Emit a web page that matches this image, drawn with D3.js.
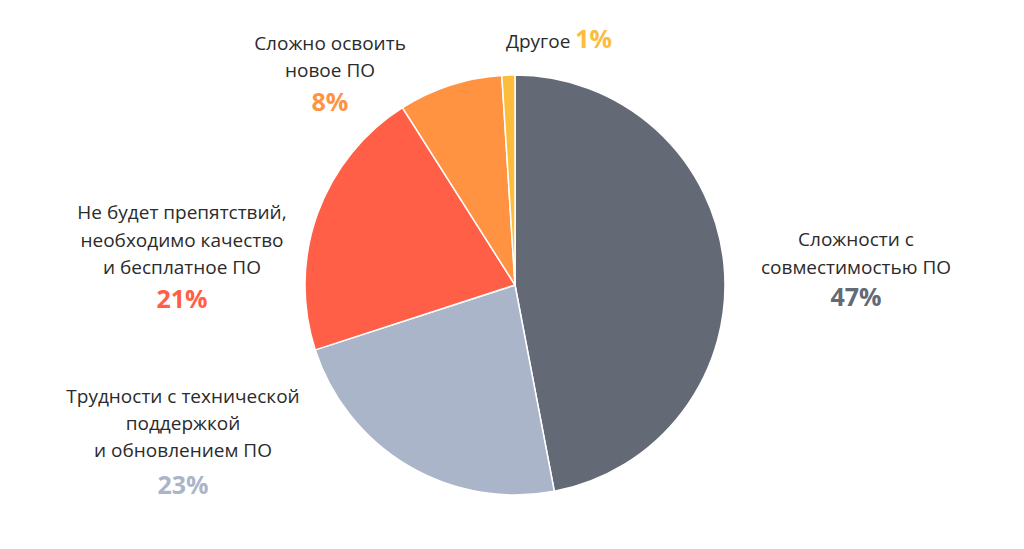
<!DOCTYPE html><html><head><meta charset="utf-8">
<script src="https://cdn.jsdelivr.net/npm/d3@7"></script>
<style>body{margin:0;background:#fff}svg{font-family:"Open Sans",sans-serif}</style></head><body>
<svg width="1024" height="549"></svg>
<script>
const categories=["Сложности с совместимостью ПО","Трудности с технической поддержкой и обновлением ПО","Не будет препятствий, необходимо качество и бесплатное ПО","Сложно освоить новое ПО","Другое"];
const values=[47,23,21,8,1];
const colors=["#636a76","#abb5c9","#ff5f46","#ff9342","#fbbd3b"];
const labelLines=[["Сложности с","совместимостью ПО"],["Трудности с технической","поддержкой","и обновлением ПО"],["Не будет препятствий,","необходимо качество","и бесплатное ПО"],["Сложно освоить","новое ПО"],[]];
const svg=d3.select("svg");
const pie=d3.pie().sort(null).value(d=>d)(values);
const arc=d3.arc().innerRadius(0).outerRadius(210);
const g=svg.append("g").attr("transform","translate(515,285)");
g.selectAll("path").data(pie).join("path").attr("d",arc).attr("fill",(d,i)=>colors[i]).attr("stroke","#fff").attr("stroke-width",1.5);
const pos=[{x:856,y:[240,268],py:298},{x:183,y:[397,424,451],py:486},{x:182,y:[213,241,268],py:300},{x:330,y:[44,71],py:103}];
pos.forEach((p,i)=>{
  labelLines[i].forEach((t,j)=>svg.append("text").attr("x",p.x).attr("y",p.y[j]+6).attr("text-anchor","middle").attr("font-size",19).attr("fill","#2b2b2b").text(t));
  svg.append("text").attr("x",p.x).attr("y",p.py+8).attr("text-anchor","middle").attr("font-size",25).attr("font-weight","bold").attr("fill",colors[i]).text(values[i]+"%");
});
const t=svg.append("text").attr("x",559).attr("y",48).attr("text-anchor","middle").attr("font-size",19);
t.append("tspan").attr("fill","#2b2b2b").text(categories[4]+" ");
t.append("tspan").attr("fill",colors[4]).attr("font-size",25).attr("font-weight","bold").text(values[4]+"%");
</script></body></html>
